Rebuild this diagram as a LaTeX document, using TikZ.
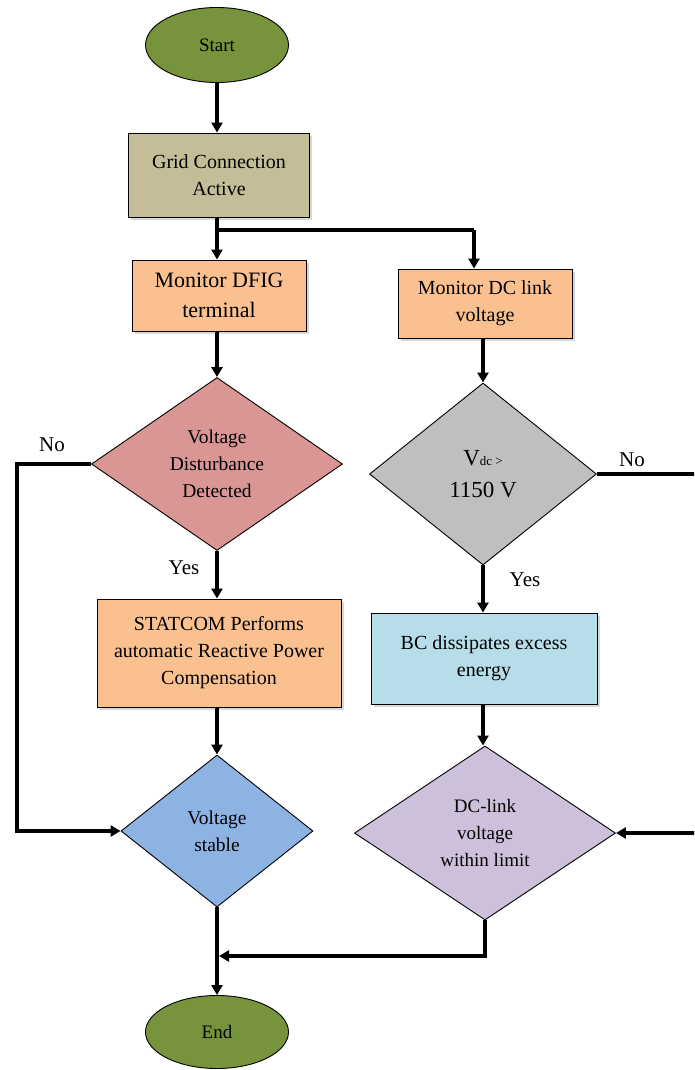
\documentclass[tikz,border=0pt]{standalone}
\usepackage{fontspec}
\setmainfont{Liberation Serif}
\usetikzlibrary{arrows.meta,shapes.geometric,shadows}
\definecolor{termgreen}{HTML}{77933C}
\definecolor{gridtan}{HTML}{C4BD97}
\definecolor{peach}{HTML}{FAC090}
\definecolor{pinkd}{HTML}{D99694}
\definecolor{greyd}{HTML}{BFBFBF}
\definecolor{lblue}{HTML}{B7DEE8}
\definecolor{blued}{HTML}{8DB3E2}
\definecolor{lavd}{HTML}{CCC0DA}
\tikzset{
  base/.style={draw=black, line width=0.9pt, align=center, inner sep=0pt, text=black},
  term/.style={base, ellipse, fill=termgreen, minimum width=143pt, minimum height=75pt, font=\fontsize{19}{24}\selectfont},
  procbox/.style={base, rectangle, drop shadow={shadow xshift=2.5pt, shadow yshift=-2.5pt, opacity=0.3}, font=\fontsize{20}{27}\selectfont},
  decision/.style={base, diamond, font=\fontsize{19.5}{27}\selectfont},
  conn/.style={line width=3.6pt, -{Triangle[length=10pt,width=11pt]}},
  plainconn/.style={line width=3.6pt},
  lbl/.style={font=\fontsize{21}{24}\selectfont, text=black}
}
\begin{document}
\begin{tikzpicture}[x=1pt,y=-1pt]
\useasboundingbox (0,0) rectangle (694,1070);
\clip (0,0) rectangle (694,1070);
\fill[white] (0,0) rectangle (694,1070);
% nodes
\node[term] (start) at (217,45) {Start};
\node[procbox, fill=gridtan, minimum width=181pt, minimum height=84pt] (grid) at (219,175) {Grid Connection\\Active};
\node[procbox, fill=peach, minimum width=174pt, minimum height=71pt, font=\fontsize{22}{30}\selectfont] (dfig) at (219,295.5) {Monitor DFIG\\terminal};
\node[procbox, fill=peach, minimum width=174pt, minimum height=69pt] (dc) at (485,303.5) {Monitor DC link\\voltage};
\node[decision, fill=pinkd, shape aspect=1.45, minimum width=251pt, minimum height=173pt] (vdd) at (217,464) {Voltage\\Disturbance\\Detected};
\node[decision, fill=greyd, shape aspect=1.25, minimum width=227pt, minimum height=182pt, font=\fontsize{23}{32}\selectfont] (vdc) at (483,474) {V{\fontsize{13}{13}\selectfont dc >}\\1150 V};
\node[procbox, fill=peach, minimum width=244pt, minimum height=108pt] (statcom) at (219,653) {STATCOM Performs\\automatic Reactive Power\\Compensation};
\node[procbox, fill=lblue, minimum width=226pt, minimum height=91pt] (bc) at (484,658.5) {BC dissipates excess\\energy};
\node[decision, fill=blued, shape aspect=1.26, minimum width=192pt, minimum height=152pt] (vs) at (217,831) {Voltage\\stable};
\node[decision, fill=lavd, shape aspect=1.5, minimum width=261pt, minimum height=174pt, font=\fontsize{19}{27}\selectfont] (dcl) at (485,833) {DC-link\\voltage\\within limit};
\node[term, minimum height=73pt] (endn) at (217,1032) {End};
% helper coordinates
\coordinate (j1) at (217,230);
\coordinate (j2) at (474,230);
\coordinate (c1) at (17,464);
\coordinate (c2) at (712,474);
\coordinate (j3) at (217,956);
% connectors
\draw[conn] (start.south) -- (start.south |- grid.north);
\draw[conn] (j1 |- grid.south) -- (j1 |- dfig.north);
\draw[plainconn] (j1) -- (j2);
\draw[conn] (j2) -- (j2 |- dc.north);
\draw[conn] (j1 |- dfig.south) -- (vdd.north);
\draw[conn] (vdd.west) -- (c1) |- (vs.west);
\draw[conn] (vdd.south) -- (vdd.south |- statcom.north);
\draw[conn] (vs.north |- statcom.south) -- (vs.north);
\draw[conn] (vs.south) -- (vs.south |- endn.north);
\draw[conn] (vdc.north |- dc.south) -- (vdc.north);
\draw[conn] (vdc.south) -- (vdc.south |- bc.north);
\draw[conn] (vdc.south |- bc.south) -- (vdc.south |- dcl.north);
\draw[conn] (vdc.east) -- (c2) |- (dcl.east);
\draw[conn] (dcl.south) -- (dcl.south |- j3) -- ([xshift=2pt]j3);
% labels
\node[lbl] (no1) at (52,445) {No};
\node[lbl] (yes1) at (184,568) {Yes};
\node[lbl] (no2) at (632,460) {No};
\node[lbl] (yes2) at (525,580) {Yes};
\end{tikzpicture}
\end{document}
